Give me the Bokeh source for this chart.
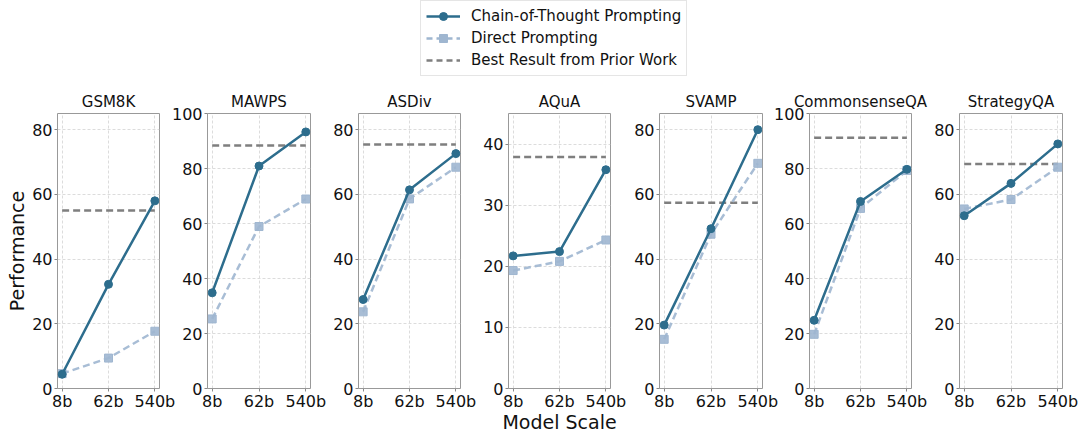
from bokeh.plotting import figure
from bokeh.layouts import column, row
from bokeh.models import Range1d, Legend, LegendItem, FixedTicker
from bokeh.embed import file_html
from bokeh.resources import INLINE

model_scales = ["8b", "62b", "540b"]
datasets = ["GSM8K", "MAWPS", "ASDiv", "AQuA", "SVAMP", "CommonsenseQA", "StrategyQA"]
cot_values = [
    [4.4, 32.2, 58.0],
    [34.8, 80.9, 93.3],
    [27.5, 61.4, 72.6],
    [21.7, 22.4, 35.8],
    [19.6, 49.4, 80.0],
    [24.8, 68.0, 79.7],
    [53.4, 63.4, 75.6],
]
direct_values = [
    [4.6, 9.4, 17.7],
    [25.3, 58.9, 68.9],
    [23.7, 58.6, 68.4],
    [19.3, 20.8, 24.3],
    [15.2, 47.7, 69.6],
    [19.7, 65.5, 79.3],
    [55.5, 58.4, 68.4],
]
prior_best = [55.0, 88.4, 75.4, 37.9, 57.4, 91.2, 69.4]
y_max = [85, 100, 85, 45, 85, 100, 85]
y_ticks = [
    [0, 20, 40, 60, 80],
    [0, 20, 40, 60, 80, 100],
    [0, 20, 40, 60, 80],
    [0, 10, 20, 30, 40],
    [0, 20, 40, 60, 80],
    [0, 20, 40, 60, 80, 100],
    [0, 20, 40, 60, 80],
]

COT = "#2d6d8d"
DIRECT = "#9fb6d0"
BEST = "#7f7f7f"
FONT = "DejaVu Sans"

# layout geometry (pixels)
frame_left = [57, 207, 358, 508, 659, 809, 959]
frame_right = [159, 310, 460, 610, 762, 911, 1062]
LEG_H = 78
TOP, FRAME_H, BOTTOM = 35, 275, 58
n = len(datasets)
starts = [0] + [frame_left[i] - 48 for i in range(1, n)]
borders_left = [frame_left[i] - starts[i] for i in range(n)]
borders_right = [30] * (n - 1) + [16]

xs = list(range(len(model_scales)))

panels = []
for i, name in enumerate(datasets):
    fw = frame_right[i] - frame_left[i]
    w = borders_left[i] + fw + borders_right[i]
    if i < n - 1:
        mr = starts[i + 1] - (starts[i] + w)
    else:
        mr = 0
    p = figure(width=w, height=TOP + FRAME_H + BOTTOM, x_range=Range1d(-0.1, 2.1),
               y_range=Range1d(0, y_max[i]), title=name,
               toolbar_location=None, output_backend="svg",
               min_border_left=borders_left[i], min_border_right=borders_right[i],
               min_border_top=TOP, min_border_bottom=BOTTOM,
               margin=(0, mr, 0, 0))
    p.title.align = "center"
    p.title.text_font = FONT
    p.title.text_font_size = "15px"
    p.title.text_font_style = "normal"
    p.title.text_color = "#111111"
    p.title.standoff = 5
    p.outline_line_color = "#999999"
    p.outline_line_width = 1
    p.background_fill_color = "white"
    p.border_fill_color = None

    p.xaxis.ticker = FixedTicker(ticks=xs)
    p.xaxis.major_label_overrides = {k: v for k, v in zip(xs, model_scales)}
    p.yaxis.ticker = FixedTicker(ticks=y_ticks[i])
    for ax in (p.xaxis[0], p.yaxis[0]):
        ax.axis_line_color = None
        ax.major_tick_line_color = "#888888"
        ax.major_tick_out = 3
        ax.major_tick_in = 0
        ax.minor_tick_line_color = None
        ax.major_label_text_font = FONT
        ax.major_label_text_font_size = "16px"
        ax.major_label_text_color = "#111111"
        ax.axis_label_text_font = FONT
        ax.axis_label_text_font_size = "19px"
        ax.axis_label_text_font_style = "normal"
        ax.axis_label_text_color = "#111111"
    p.xaxis.major_label_standoff = 0
    p.yaxis.major_label_standoff = 2
    p.xaxis.axis_label_standoff = -3
    p.yaxis.axis_label_standoff = 1
    if i == 0:
        p.yaxis.axis_label = "Performance"
    if i == 3:
        p.xaxis.axis_label = "Model Scale"
    p.grid.grid_line_color = "#dcdcdc"
    p.grid.grid_line_dash = "3 2"
    p.grid.grid_line_width = 1

    p.line([xs[0], xs[-1]], [prior_best[i], prior_best[i]], line_color=BEST,
           line_width=2.5, line_dash="7 4")
    p.line(xs, direct_values[i], line_color=DIRECT, line_width=2.5,
           line_dash="7 4", line_alpha=0.9)
    p.scatter(xs, direct_values[i], marker="square", size=8, fill_color=DIRECT,
              line_color=DIRECT, fill_alpha=0.9)
    p.line(xs, cot_values[i], line_color=COT, line_width=2.5)
    p.scatter(xs, cot_values[i], marker="circle", size=8, fill_color=COT,
              line_color=COT)
    panels.append(p)

leg = figure(width=1080, height=LEG_H, x_range=Range1d(0, 1), y_range=Range1d(0, 1),
             toolbar_location=None, output_backend="svg", min_border=0)
leg.xaxis.visible = False
leg.yaxis.visible = False
leg.grid.visible = False
leg.outline_line_color = None
off = [10, 11]
r1 = leg.line(off, off, line_color=COT, line_width=2.5)
r1m = leg.scatter(off, off, marker="circle", size=7, fill_color=COT, line_color=COT)
r2 = leg.line(off, off, line_color=DIRECT, line_width=2.5, line_dash="6 4")
r2m = leg.scatter(off, off, marker="square", size=7, fill_color=DIRECT, line_color=DIRECT)
r3 = leg.line(off, off, line_color=BEST, line_width=2.5, line_dash="6 4")
legend = Legend(items=[
    LegendItem(label="Chain-of-Thought Prompting", renderers=[r1, r1m]),
    LegendItem(label="Direct Prompting", renderers=[r2, r2m]),
    LegendItem(label="Best Result from Prior Work", renderers=[r3]),
], location=(420, 2))
legend.label_text_font = FONT
legend.label_text_font_size = "15px"
legend.label_text_color = "#111111"
legend.label_height = 20
legend.glyph_height = 20
legend.glyph_width = 34
legend.spacing = 2
legend.padding = 5
legend.label_standoff = 11
legend.border_line_color = "#cccccc"
legend.border_line_width = 1
legend.background_fill_alpha = 1.0
leg.add_layout(legend, "center")

layout = column(leg, row(*panels, spacing=0), spacing=0)
open("out.html", "w").write(file_html(layout, INLINE))
